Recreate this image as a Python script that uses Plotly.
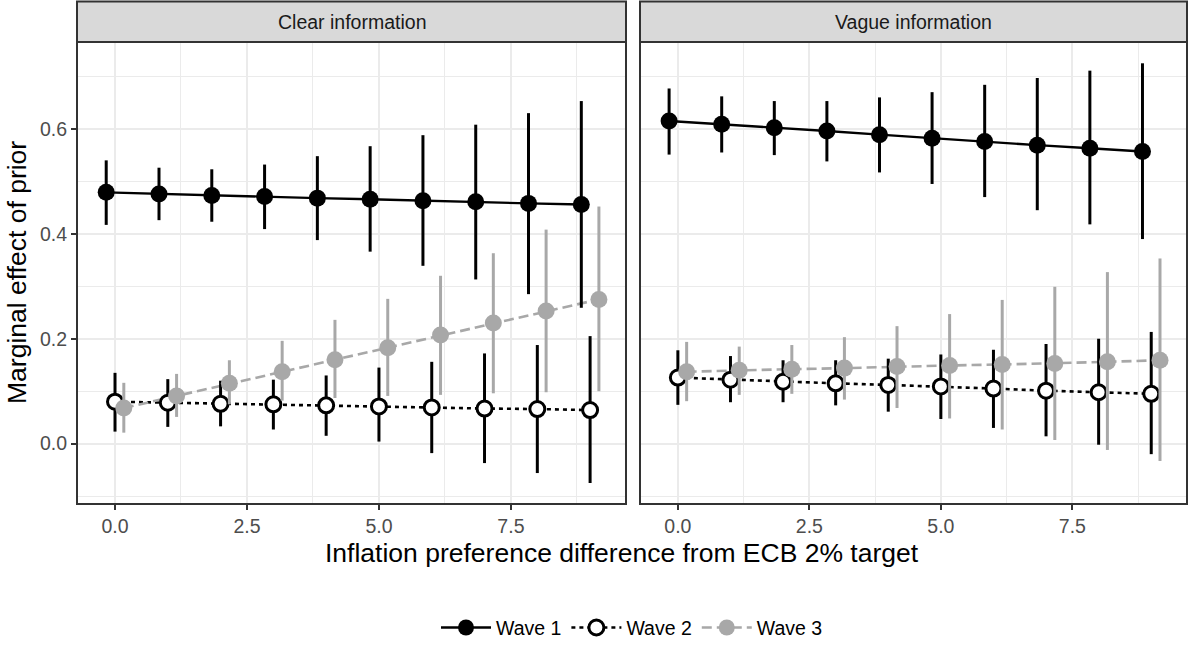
import plotly.graph_objects as go

# ---------------- data ----------------
x_vals = [0, 1, 2, 3, 4, 5, 6, 7, 8, 9]
panels = ["Clear information", "Vague information"]
waves = ["Wave 1", "Wave 2", "Wave 3"]

w1_clear = [0.479, 0.476, 0.473, 0.471, 0.468, 0.466, 0.463, 0.461, 0.458, 0.456]
w1_clear_lo = [0.417, 0.426, 0.423, 0.409, 0.388, 0.366, 0.339, 0.313, 0.285, 0.259]
w1_clear_hi = [0.540, 0.526, 0.523, 0.532, 0.548, 0.567, 0.588, 0.608, 0.630, 0.653]

w2_clear = [0.080, 0.078, 0.076, 0.075, 0.073, 0.071, 0.069, 0.067, 0.066, 0.064]
w2_clear_lo = [0.023, 0.032, 0.033, 0.027, 0.015, 0.004, -0.018, -0.037, -0.056, -0.075]
w2_clear_hi = [0.135, 0.123, 0.120, 0.122, 0.130, 0.145, 0.156, 0.172, 0.188, 0.205]

w3_clear = [0.068, 0.091, 0.115, 0.137, 0.160, 0.183, 0.207, 0.230, 0.253, 0.275]
w3_clear_lo = [0.021, 0.051, 0.075, 0.082, 0.087, 0.091, 0.093, 0.096, 0.098, 0.100]
w3_clear_hi = [0.116, 0.133, 0.159, 0.196, 0.236, 0.276, 0.320, 0.363, 0.408, 0.452]

w1_vague = [0.615, 0.609, 0.602, 0.596, 0.589, 0.582, 0.576, 0.569, 0.563, 0.557]
w1_vague_lo = [0.551, 0.555, 0.550, 0.538, 0.517, 0.495, 0.470, 0.445, 0.418, 0.390]
w1_vague_hi = [0.677, 0.662, 0.653, 0.653, 0.660, 0.670, 0.684, 0.697, 0.711, 0.725]

w2_vague = [0.126, 0.122, 0.118, 0.115, 0.112, 0.109, 0.105, 0.101, 0.098, 0.095]
w2_vague_lo = [0.074, 0.079, 0.079, 0.073, 0.061, 0.047, 0.030, 0.014, -0.002, -0.020]
w2_vague_hi = [0.178, 0.167, 0.159, 0.159, 0.162, 0.170, 0.179, 0.190, 0.200, 0.213]

w3_vague = [0.137, 0.140, 0.142, 0.144, 0.147, 0.149, 0.151, 0.153, 0.156, 0.159]
w3_vague_lo = [0.081, 0.093, 0.095, 0.084, 0.068, 0.048, 0.027, 0.007, -0.012, -0.033]
w3_vague_hi = [0.194, 0.185, 0.188, 0.203, 0.224, 0.247, 0.274, 0.299, 0.327, 0.353]

x_ticks = [0.0, 2.5, 5.0, 7.5]
y_ticks = [0.0, 0.2, 0.4, 0.6]

# ---------------- styling ----------------
dodge = [-1 / 6, 0.0, 1 / 6]
colors = ["#000000", "#000000", "#a8a8a8"]
fills = ["#000000", "#ffffff", "#a8a8a8"]
dashes = ["solid", "4px,4px", "10px,5px"]
FONT = "Liberation Sans, Arial, sans-serif"
TICK_SIZE = 19.5
TITLE_SIZE = 26.5

series = {
    "Clear information": [
        (w1_clear, w1_clear_lo, w1_clear_hi),
        (w2_clear, w2_clear_lo, w2_clear_hi),
        (w3_clear, w3_clear_lo, w3_clear_hi),
    ],
    "Vague information": [
        (w1_vague, w1_vague_lo, w1_vague_hi),
        (w2_vague, w2_vague_lo, w2_vague_hi),
        (w3_vague, w3_vague_lo, w3_vague_hi),
    ],
}

fig = go.Figure()
axis_ids = [("x", "y"), ("x2", "y2")]

# lines first (under all points)
for p, panel in enumerate(panels):
    xa, ya = axis_ids[p]
    for w in range(3):
        yv, lo, hi = series[panel][w]
        xs = [x + dodge[w] for x in x_vals]
        fig.add_trace(go.Scatter(
            x=xs, y=yv, mode="lines", xaxis=xa, yaxis=ya, showlegend=False,
            line=dict(color=colors[w], width=2.4 if w == 0 else 2.6, dash=dashes[w]),
            hoverinfo="skip"))

# point ranges
for p, panel in enumerate(panels):
    xa, ya = axis_ids[p]
    for w in range(3):
        yv, lo, hi = series[panel][w]
        xs = [x + dodge[w] for x in x_vals]
        fig.add_trace(go.Scatter(
            x=xs, y=yv, mode="markers", xaxis=xa, yaxis=ya, showlegend=False,
            name=waves[w],
            marker=dict(size=15 if w == 1 else 17, color=fills[w], symbol="circle",
                        line=dict(color=colors[w], width=3 if w == 1 else 0)),
            error_y=dict(type="data", symmetric=False,
                         array=[h - v for h, v in zip(hi, yv)],
                         arrayminus=[v - l for v, l in zip(yv, lo)],
                         color=colors[w], thickness=3, width=0)))

# legend entries
for w in range(3):
    fig.add_trace(go.Scatter(
        x=[None], y=[None], mode="lines+markers", name=waves[w], xaxis="x", yaxis="y",
        line=dict(color=colors[w], width=2.6, dash=dashes[w]),
        marker=dict(size=15 if w == 1 else 17, color=fills[w],
                    line=dict(color=colors[w], width=3 if w == 1 else 0))))

xdom = [(0.0, 549 / 1110), (563 / 1110, 1.0)]
xr = [-0.72, 9.68]
yr = [-0.115, 0.7656]

common_x = dict(range=xr, tickvals=x_ticks, ticktext=[f"{t:.1f}" for t in x_ticks],
                showgrid=True, gridcolor="#ebebeb", gridwidth=2,
                minor=dict(tickvals=[1.25, 3.75, 6.25, 8.75], showgrid=True,
                           gridcolor="#ebebeb", gridwidth=1, ticks=""),
                zeroline=False, ticks="outside", ticklen=5, tickwidth=2,
                tickcolor="#333333", showline=False,
                tickfont=dict(family=FONT, size=TICK_SIZE, color="#4d4d4d"))
common_y = dict(range=yr, tickvals=y_ticks, ticktext=[f"{t:.1f}" for t in y_ticks],
                showgrid=True, gridcolor="#ebebeb", gridwidth=2,
                minor=dict(tickvals=[-0.1, 0.1, 0.3, 0.5, 0.7], showgrid=True,
                           gridcolor="#ebebeb", gridwidth=1, ticks=""),
                zeroline=False, showline=False,
                tickfont=dict(family=FONT, size=TICK_SIZE, color="#4d4d4d"))

fig.update_layout(
    width=1189, height=649,
    margin=dict(l=77, r=2, t=42, b=140.5, pad=0),
    plot_bgcolor="white", paper_bgcolor="white",
    font=dict(family=FONT, color="#000000"),
    xaxis=dict(domain=list(xdom[0]), anchor="y", **common_x),
    xaxis2=dict(domain=list(xdom[1]), anchor="y2", **common_x),
    yaxis=dict(domain=[0, 1], anchor="x", ticks="outside", ticklen=5, tickwidth=2,
               tickcolor="#333333", **common_y),
    yaxis2=dict(domain=[0, 1], anchor="x2", showticklabels=False, ticks="", **common_y),
    legend=dict(orientation="h", x=0.5, xanchor="center", y=-0.268, yanchor="middle",
                font=dict(family=FONT, size=TICK_SIZE, color="#000000"),
                itemwidth=50, traceorder="normal"),
    showlegend=True,
)

strip_top = 1 + (42.3 - 1.5) / 466.2
shapes = []
annotations = []
for p, panel in enumerate(panels):
    x0, x1 = xdom[p]
    # panel border
    shapes.append(dict(type="rect", xref="paper", yref="paper", x0=x0, x1=x1, y0=0, y1=1,
                       line=dict(color="#333333", width=2), fillcolor="rgba(0,0,0,0)",
                       layer="above"))
    # strip
    shapes.append(dict(type="rect", xref="paper", yref="paper", x0=x0, x1=x1, y0=1,
                       y1=strip_top, line=dict(color="#333333", width=2),
                       fillcolor="#d9d9d9", layer="above"))
    annotations.append(dict(text=panel, xref="paper", yref="paper", x=(x0 + x1) / 2,
                            y=(1 + strip_top) / 2, showarrow=False, xanchor="center",
                            yanchor="middle",
                            font=dict(family=FONT, size=TICK_SIZE, color="#1a1a1a")))

annotations.append(dict(text="Inflation preference difference from ECB 2% target",
                        xref="paper", yref="paper", x=(622 - 77) / 1110,
                        y=-(558 - 508.5) / 466.2,
                        showarrow=False, xanchor="center", yanchor="middle",
                        font=dict(family=FONT, size=TITLE_SIZE, color="#000000")))
annotations.append(dict(text="Marginal effect of prior", xref="paper", yref="paper",
                        x=-(77 - 17) / 1110, y=0.5, showarrow=False, textangle=-90,
                        xanchor="center", yanchor="middle",
                        font=dict(family=FONT, size=TITLE_SIZE, color="#000000")))

fig.update_layout(shapes=shapes, annotations=annotations)
fig.write_html("out.html")
